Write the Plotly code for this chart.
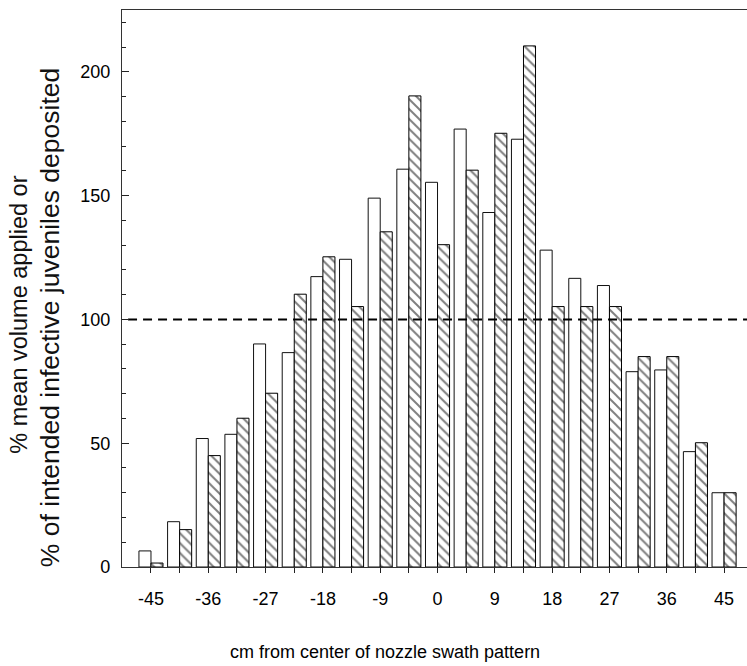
import plotly.graph_objects as go

# Distance from the nozzle swath centre (cm)
positions = [-45, -40.5, -36, -31.5, -27, -22.5, -18, -13.5, -9, -4.5, 0,
             4.5, 9, 13.5, 18, 22.5, 27, 31.5, 36, 40.5, 45]

# % of mean volume applied (open bars)
volume_pct = [6.5, 18.3, 51.9, 53.6, 90.1, 86.6, 117.3, 124.3, 149.0, 160.7, 155.4,
              176.9, 143.2, 172.8, 128.0, 116.6, 113.7, 78.9, 79.6, 46.6, 30.0]

# % of intended infective juveniles deposited (hatched bars)
juveniles_pct = [1.6, 15.1, 45.0, 60.1, 70.2, 110.2, 125.3, 105.2, 135.4, 190.3, 130.2,
                 160.3, 175.2, 210.5, 105.2, 105.2, 105.2, 85.0, 85.0, 50.2, 30.0]

tick_values = [-45, -40.5, -36, -31.5, -27, -22.5, -18, -13.5, -9, -4.5, 0,
               4.5, 9, 13.5, 18, 22.5, 27, 31.5, 36, 40.5, 45]
tick_labels = ["-45", "", "-36", "", "-27", "", "-18", "", "-9", "", "0",
               "", "9", "", "18", "", "27", "", "36", "", "45"]

reference_level = 100
x_range = [-49.55, 48.6]
y_range = [0, 225]

FONT = "Liberation Sans, Arial, Helvetica, sans-serif"

fig = go.Figure()

fig.add_trace(go.Bar(
    x=positions, y=volume_pct, name="volume",
    marker=dict(color="white", line=dict(color="#111111", width=1)),
))
fig.add_trace(go.Bar(
    x=positions, y=juveniles_pct, name="juveniles",
    marker=dict(
        color="white",
        line=dict(color="#000000", width=1),
        pattern=dict(shape="\\", fgcolor="black", bgcolor="white",
                     size=7, solidity=0.28),
    ),
))

# 100 % reference line
fig.add_trace(go.Scatter(
    x=[-48.6, x_range[1]], y=[reference_level, reference_level],
    mode="lines", line=dict(color="black", width=2, dash="9px,6px"),
    hoverinfo="skip",
))

fig.update_layout(
    width=747, height=666,
    margin=dict(l=122, r=0, t=10, b=99),
    paper_bgcolor="white", plot_bgcolor="white",
    barmode="group", bargap=0.16, bargroupgap=0,
    showlegend=False,
    font=dict(family=FONT, color="black", size=18),
    xaxis=dict(
        range=x_range, tickmode="array", tickvals=tick_values, ticktext=tick_labels,
        ticks="outside", ticklen=5, tickwidth=1, tickcolor="#222222",
        showline=True, linecolor="#333333", linewidth=1.2, mirror=True,
        showgrid=False, zeroline=False,
        tickfont=dict(size=18), ticklabelstandoff=10,
    ),
    yaxis=dict(
        range=y_range, tickmode="array", tickvals=[0, 50, 100, 150, 200],
        ticks="inside", ticklen=7, tickwidth=1, tickcolor="#222222",
        minor=dict(dtick=10, tick0=0, ticks="inside", ticklen=4,
                   tickcolor="#222222", tickwidth=1),
        showline=True, linecolor="#333333", linewidth=1.2,
        showgrid=False, zeroline=False,
        tickfont=dict(size=18), ticklabelstandoff=7,
    ),
    annotations=[
        dict(text="cm from center of nozzle swath pattern", xref="paper", yref="paper",
             x=0.42, y=-0.153, xanchor="center", yanchor="middle",
             showarrow=False, font=dict(size=18)),
        dict(text="% mean volume applied or", xref="paper", yref="paper",
             x=-0.164, y=0.452, xanchor="center", yanchor="middle", textangle=-90,
             showarrow=False, font=dict(size=23.5, color="#111111")),
        dict(text="% of intended infective juveniles deposited", xref="paper", yref="paper",
             x=-0.115, y=0.447, xanchor="center", yanchor="middle", textangle=-90,
             showarrow=False, font=dict(size=26.5, color="#111111")),
    ],
)

fig.write_html("out.html")
